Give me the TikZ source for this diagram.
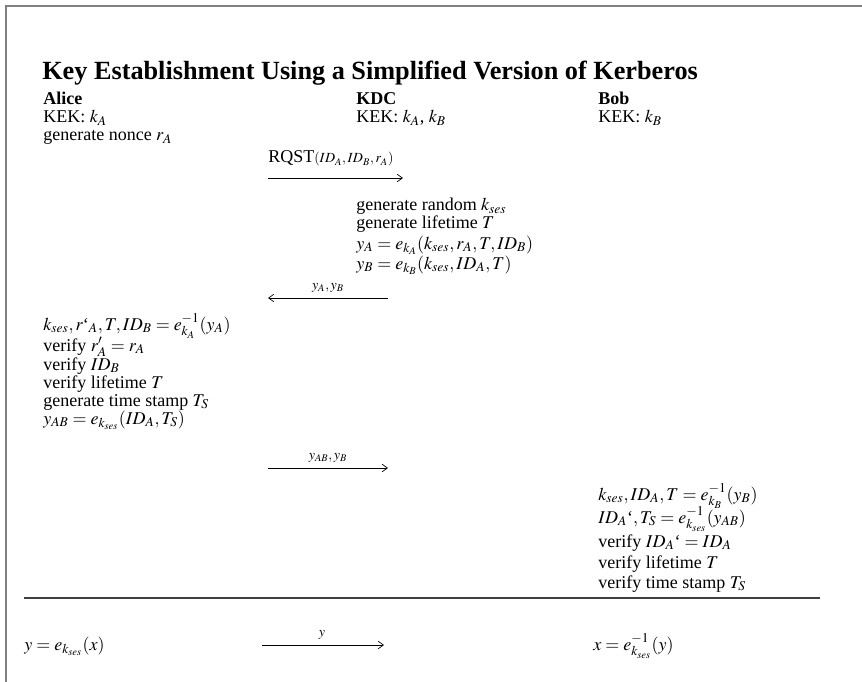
\documentclass[tikz,border=0pt]{standalone}
\usepackage{mathptmx}
\usepackage[no-math]{fontspec}
\setmainfont{Liberation Serif}
\usetikzlibrary{arrows.meta}
\begin{document}
\begin{tikzpicture}[x=0.6667pt,y=-0.6667pt,
  txt/.style={anchor=base west, inner sep=0pt, font=\fontsize{12}{13}\selectfont},
  hd/.style={anchor=base west, inner sep=0pt, font=\fontsize{12}{13}\selectfont\bfseries},
  ttl/.style={anchor=base west, inner sep=0pt, font=\fontsize{17.5}{20}\selectfont\bfseries},
  lbl/.style={anchor=base, inner sep=0pt, font=\fontsize{9.3}{10}\selectfont},
  msg/.style={-{Straight Barb[length=3.5pt,width=5pt]}, line width=0.45pt},
  frame/.style={draw=gray, line width=1.1pt},
  rule/.style={draw=black!75, line width=1.1pt}]
\useasboundingbox (0,0) rectangle (862,682);
\draw[frame] (6,682) -- (6,6) -- (862,6);
\node[ttl] (title) at (42,80) {Key Establishment Using a Simplified Version of Kerberos};
% headers
\node[hd] (alice) at (43,105) {Alice};
\node[hd] (kdc) at (356,105) {KDC};
\node[hd] (bob) at (598,105) {Bob};
\node[txt] (a1) at (43,123) {KEK: $k_A$};
\node[txt] (a2) at (43,141) {generate nonce $r_A$};
\node[txt] (k1) at (356,123) {KEK: $k_A$, $k_B$};
\node[txt] (b1) at (598,123) {KEK: $k_B$};
% message 1
\coordinate (m1s) at (268,178);
\coordinate (m1e) at (403,178);
\draw[msg] (m1s) -- (m1e);
\node[anchor=base west, inner sep=0pt] (m1l) at (268,163) {\fontsize{12}{13}\selectfont RQST\fontsize{9.3}{10}\selectfont$(ID_A,ID_B,r_A)$};
% KDC block
\node[txt] (k2) at (356,211) {generate random $k_{ses}$};
\node[txt] (k3) at (356,229) {generate lifetime $T$};
\node[txt] (k4) at (356,249) {$y_A = e_{k_A}(k_{ses},r_A,T,ID_B)$};
\node[txt] (k5) at (356,269) {$y_B = e_{k_B}(k_{ses},ID_A,T)$};
% message 2
\coordinate (m2s) at (388,298);
\coordinate (m2e) at (268,298);
\draw[msg] (m2s) -- (m2e);
\node[lbl] (m2l) at (328,289) {$y_A,y_B$};
% Alice block
\node[txt] (a3) at (43,330) {$k_{ses},r\mbox{`}_A,T,ID_B = e^{-1}_{k_A}(y_A)$};
\node[txt] (a4) at (43,351) {verify $r'_A = r_A$};
\node[txt] (a5) at (43,370) {verify $ID_B$};
\node[txt] (a6) at (43,388) {verify lifetime $T$};
\node[txt] (a7) at (43,406) {generate time stamp $T_S$};
\node[txt] (a8) at (43,424) {$y_{AB} = e_{k_{ses}}(ID_A,T_S)$};
% message 3
\coordinate (m3s) at (268,468);
\coordinate (m3e) at (388,468);
\draw[msg] (m3s) -- (m3e);
\node[lbl] (m3l) at (328,459) {$y_{AB},y_B$};
% Bob block
\node[txt] (b2) at (598,500) {$k_{ses},ID_A,T = e^{-1}_{k_B}(y_B)$};
\node[txt] (b3) at (598,523) {$ID_A\mbox{`},T_S = e^{-1}_{k_{ses}}(y_{AB})$};
\node[txt] (b4) at (598,547) {verify $ID_A\mbox{`} = ID_A$};
\node[txt] (b5) at (598,568) {verify lifetime $T$};
\node[txt] (b6) at (598,588) {verify time stamp $T_S$};
% rule
\coordinate (r1) at (24,598);
\coordinate (r2) at (820,598);
\draw[rule] (r1) -- (r2);
% last row
\node[txt] (l1) at (24,650) {$y = e_{k_{ses}}(x)$};
\coordinate (m4s) at (262,645);
\coordinate (m4e) at (384,645);
\draw[msg] (m4s) -- (m4e);
\node[lbl] (m4l) at (322,636) {$y$};
\node[txt] (l2) at (593,650) {$x = e^{-1}_{k_{ses}}(y)$};
\end{tikzpicture}
\end{document}
